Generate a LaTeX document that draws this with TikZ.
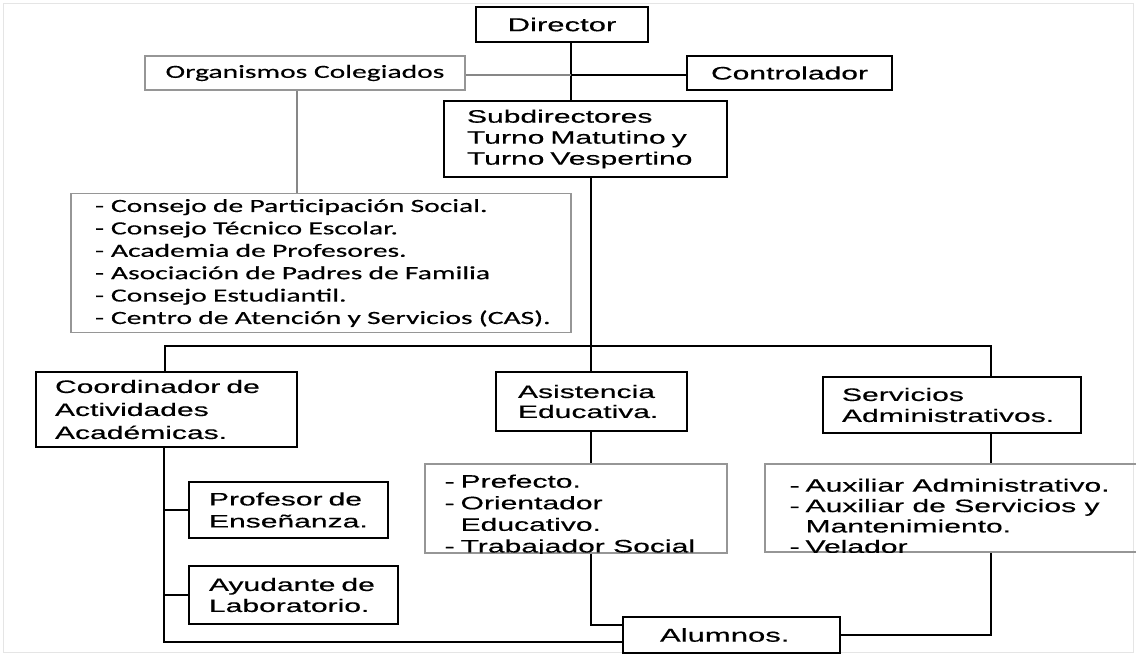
\documentclass[tikz,border=0pt]{standalone}
\usepackage{fontspec}
\setmainfont[FakeStretch=1.67, FakeBold=0.4]{Liberation Sans}
\newfontfamily\calfont[FakeStretch=1.59, FakeBold=0.4]{Carlito}
\usetikzlibrary{calc}
\definecolor{boxgray}{RGB}{150,150,150}
\definecolor{linegray}{RGB}{135,135,135}
\newcommand{\itm}{\makebox[8pt][l]{-}}
\hyphenpenalty=10000
\hbadness=10000
\hfuzz=50pt

\begin{document}
\begin{tikzpicture}[x=0.5pt, y=-0.5pt,
  box/.style={draw, line width=1pt, inner ysep=0pt, align=left, font=\fontsize{9}{10.8}\selectfont},
  graybox/.style={draw=boxgray, line width=0.8pt, inner ysep=0pt},
  link/.style={line width=1pt},
  graylink/.style={draw=linegray, line width=0.8pt}]

\useasboundingbox (0,0) rectangle (1136,655);
\draw[black!10] (3,3) rectangle (1133,652);

% top level
\node[box, minimum width=86pt, minimum height=17.5pt, align=center, font=\fontsize{9.3}{11}\selectfont] (dir) at (562,24.5) {Director};
\node[graybox, minimum width=160pt, minimum height=17pt, font=\calfont\fontsize{9.3}{11}\selectfont] (org) at (305,73) {Organismos Colegiados};
\node[box, minimum width=102.5pt, minimum height=17pt, align=center] (ctrl) at (789.5,73) {Controlador};
\node[box, minimum width=141.5pt, minimum height=38pt, inner xsep=11.5pt, text width=118.5pt, font=\fontsize{9}{10.5}\selectfont] (sub) at (585.5,139) {Subdirectores\\Turno~Matutino~y\\Turno~Vespertino};

\node[graybox, minimum width=250pt, minimum height=69.5pt, inner xsep=12pt, text width=226pt, align=left, font=\calfont\fontsize{9.3}{11.2}\selectfont] (cons) at (321,263) {\itm Consejo~de~Participación~Social.\\\itm Consejo~Técnico~Escolar.\\\itm Academia~de~Profesores.\\\itm Asociación~de~Padres~de~Familia\\\itm Consejo~Estudiantil.\\\itm Centro~de~Atención~y~Servicios~(CAS).};

% second level
\node[box, minimum width=130.5pt, minimum height=37.5pt, inner xsep=9.5pt, text width=111.5pt, font=\fontsize{9}{11.5}\selectfont] (coord) at (166.5,409.5) {Coordinador~de\\Actividades\\Académicas.};
\node[box, minimum width=95.5pt, minimum height=29.5pt, inner xsep=11pt, text width=73.5pt, font=\fontsize{9}{10}\selectfont] (asis) at (591.5,401.5) {Asistencia\\Educativa.};
\node[box, minimum width=129pt, minimum height=28pt, inner xsep=9.5pt, text width=110pt, font=\fontsize{9}{10.5}\selectfont] (serv) at (952,405) {Servicios\\Administrativos.};

\node[box, minimum width=99.5pt, minimum height=28pt, inner xsep=10pt, text width=79.5pt, font=\fontsize{9}{11}\selectfont] (prof) at (288.5,510) {Profesor~de\\Enseñanza.};
\node[box, minimum width=104.5pt, minimum height=29pt, inner xsep=10pt, text width=84.5pt, font=\fontsize{9}{10.5}\selectfont] (ayud) at (293.5,595) {Ayudante~de\\Laboratorio.};
\node[box, minimum width=108.5pt, minimum height=18pt, inner xsep=18.5pt, text width=71.5pt, font=\fontsize{9.3}{11}\selectfont] (alum) at (731.5,635) {Alumnos.};

% lists, last line cut by the frame
\node[graybox, minimum width=151pt, minimum height=44.5pt] (asislist) at (576,508.5) {};
\begin{scope}
  \clip (asislist.south west) rectangle (asislist.north east);
  \node[anchor=north west, inner xsep=10pt, inner ysep=5.5pt, align=left, font=\fontsize{9}{10.8}\selectfont] (asislist-t) at (asislist.north west) {\itm Prefecto.\\\itm Orientador\\\hspace{8pt}Educativo.\\\itm Trabajador~Social};
\end{scope}
\node[graybox, minimum width=187.5pt, minimum height=44pt] (servlist) at (952.5,508) {};
\begin{scope}
  \clip (servlist.south west) rectangle (servlist.north east);
  \node[anchor=north west, inner xsep=12.5pt, inner ysep=7.5pt, align=left, font=\fontsize{9}{10.2}\selectfont] (servlist-t) at (servlist.north west) {\itm Auxiliar~Administrativo.\\\itm Auxiliar~de~Servicios~y\\\hspace{8pt}Mantenimiento.\\\itm Velador};
\end{scope}

% connectors
\coordinate (trunk) at (571,75);
\coordinate (hub) at (591,346);
\coordinate (busL) at (165,346);
\coordinate (busR) at (991,346);
\coordinate (cLow) at (164,642);

\draw[link] (dir.south -| trunk) -- (sub.north -| trunk);
\draw[graylink] (org.east |- trunk) -- (trunk);
\draw[link] (trunk) -- (ctrl.west |- trunk);
\draw[graylink] ($(org.south)+(-8,0)$) -- ($(org.south |- cons.north)+(-8,0)$);
\draw[link] (sub.south -| hub) -- (hub);
\draw[link] (coord.north -| busL) -- (busL) -- (busR) -- (serv.north -| busR);
\draw[link] (hub) -- (asis.north -| hub);
\draw[link] (coord.south -| cLow) -- (cLow) -- (alum.west |- cLow);
\draw[link] (prof.west) -- (prof.west -| cLow);
\draw[link] (ayud.west) -- (ayud.west -| cLow);
\draw[link] (asis.south -| hub) -- (asislist.north -| hub);
\draw[link] (asislist.south -| hub) |- ($(alum.west)+(0,-10)$);
\draw[link] (serv.south -| busR) -- (servlist.north -| busR);
\draw[link] (servlist.south -| busR) |- (alum.east);
\end{tikzpicture}
\end{document}
